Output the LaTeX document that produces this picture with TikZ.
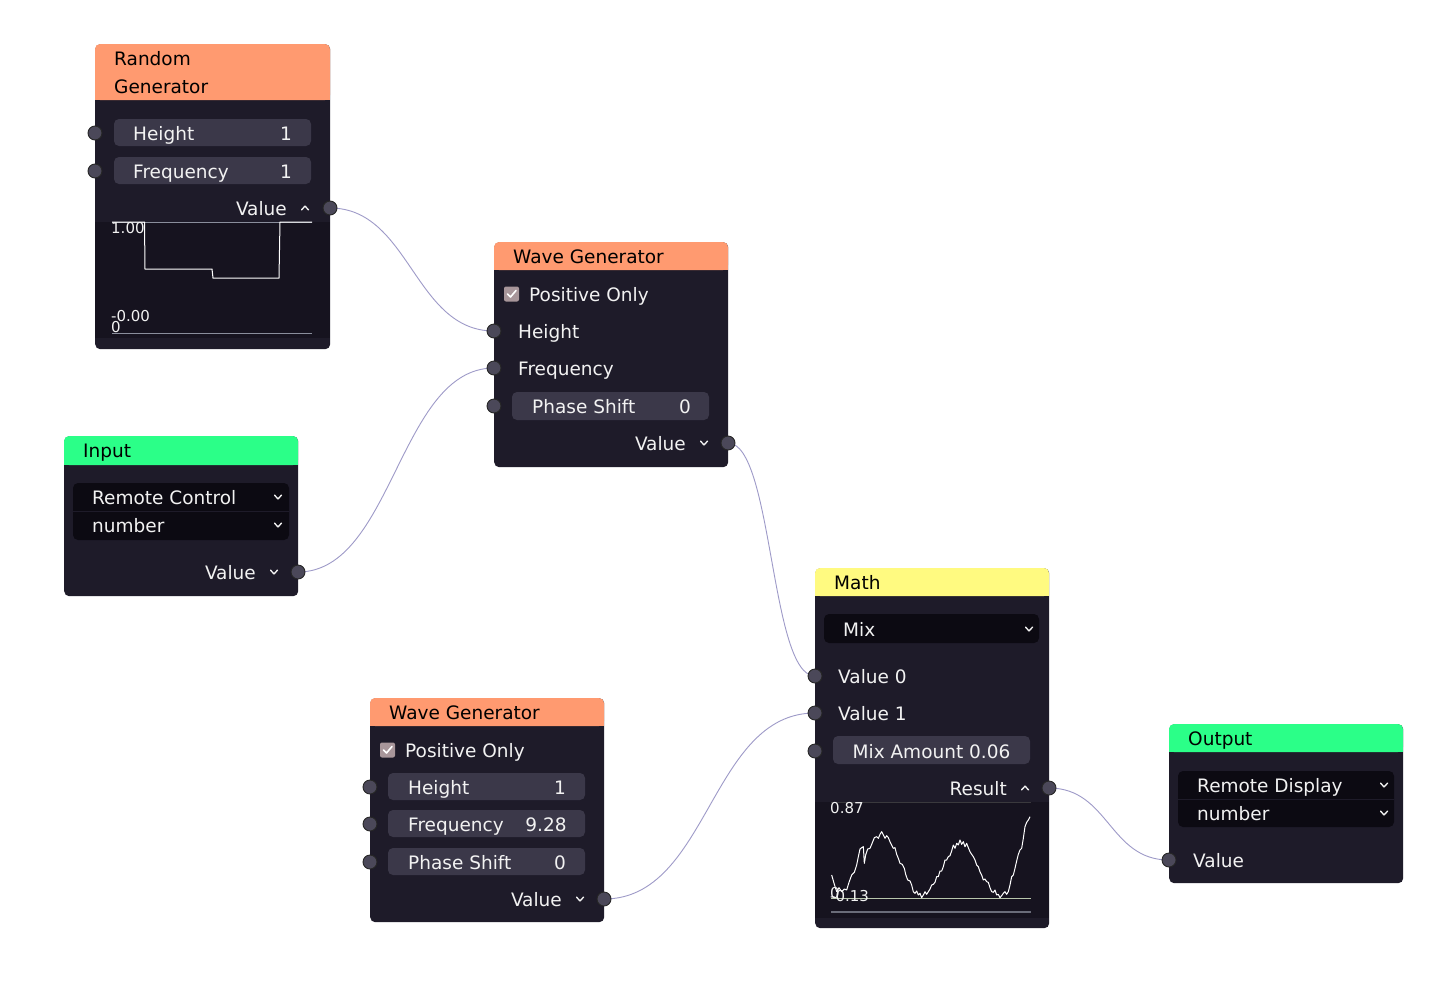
\documentclass[tikz,border=0pt]{standalone}
\usepackage{fontspec}
\setmainfont{DejaVu Sans}
\begin{document}
\pgfdeclarelayer{canvas}
\pgfdeclarelayer{background}
\pgfsetlayers{canvas,background,main}
\definecolor{bodyc}{HTML}{1E1B29}
\definecolor{plotc}{HTML}{16131F}
\definecolor{fieldc}{HTML}{3B3849}
\definecolor{dropc}{HTML}{0C0A12}
\definecolor{sockc}{HTML}{4B4859}
\definecolor{hdrorange}{HTML}{FF9A70}
\definecolor{hdrgreen}{HTML}{2BFF88}
\definecolor{hdryellow}{HTML}{FFFA80}
\definecolor{wirec}{HTML}{9E9AC8}
\definecolor{txtc}{HTML}{F2F2F2}
\definecolor{checkc}{HTML}{A8969A}
\definecolor{axisc}{HTML}{8A8E9C}
\definecolor{zeroc}{HTML}{B8C6AC}
\begin{tikzpicture}[x=1pt,y=-1pt,
  every node/.style={font=\fontsize{18.5pt}{22pt}\selectfont},
  body/.style={fill=bodyc, rounded corners=5pt, inner sep=0pt, anchor=north west},
  field/.style={fill=fieldc, rounded corners=5pt},
  drop/.style={fill=dropc, rounded corners=5pt},
  sock/.style={circle, fill=sockc, draw=black!85, line width=0.9pt, minimum size=14pt, inner sep=0pt},
  lbl/.style={inner sep=0pt, text height=15pt, text depth=0pt, text=txtc, anchor=west},
  lblr/.style={lbl, anchor=east},
  lblc/.style={lbl, anchor=center},
  hlbl/.style={inner sep=0pt, text height=15pt, text depth=0pt, text=black, anchor=west},
  small/.style={inner sep=0pt, text height=10.9pt, text depth=0pt, text=txtc, font=\fontsize{15pt}{18pt}\selectfont},
  wire/.style={draw=wirec, line width=0.9pt},
  chevdown/.pic={\draw[txtc, line width=1.4pt, line cap=round, line join=round] (-3.5,-1.8) -- (0,1.8) -- (3.5,-1.8);},
  caretup/.pic={\draw[txtc, line width=1.4pt, line cap=round, line join=round] (-3.5,1.8) -- (0,-1.8) -- (3.5,1.8);},
  checkbox/.pic={\fill[checkc, rounded corners=2pt] (-7.5,-7.5) rectangle (7.5,7.5);
    \draw[white, line width=1.6pt, line cap=round, line join=round] (-4,0) -- (-1,3) -- (4.5,-3.5);}
]
\useasboundingbox (0,0) rectangle (1434,999);
\begin{pgfonlayer}{canvas}
\fill[white] (0,0) rectangle (1434,999);
\end{pgfonlayer}

% ---------- Random Generator ----------
\node[body, minimum width=235pt, minimum height=305pt] (rg) at (95,44) {};
\fill[hdrorange, rounded corners=5pt] (95,44) rectangle (330,100);
\fill[hdrorange] (95,90) rectangle (330,100);
\node[hlbl] (rgt1) at (114,58) {Random};
\node[hlbl] (rgt2) at (114,86) {Generator};
\fill[field] (114,119) rectangle (311,146);
\fill[field] (114,157) rectangle (311,184);
\node[lbl] (rgh) at (133,133) {Height};
\node[lblc] (rghv) at (286,133) {1};
\node[lbl] (rgf) at (133,171) {Frequency};
\node[lblc] (rgfv) at (286,171) {1};
\node[lblr] (rgv) at (287,208) {Value};
\pic at (305,208) {caretup};
\fill[plotc] (95,222) rectangle (330,338);
\draw[axisc, line width=1pt] (112,222) -- (312,222);
\draw[axisc, line width=1pt] (112,333) -- (312,333);
\draw[white, line width=1pt] (112,222) -- (144.5,222) -- (145,269) -- (212,269) -- (213,278) -- (279,278) -- (280,222) -- (312,222);
\node[small, anchor=west] (rgmax) at (111,228) {1.00};
\node[small, anchor=west] (rgmin) at (111,316) {-0.00};
\node[small, anchor=west] (rgzero) at (111,327) {0};
\node[sock] (rg-h) at (95,133) {};
\node[sock] (rg-f) at (95,171) {};
\node[sock] (rg-out) at (330,208) {};

% ---------- Wave Generator (upper) ----------
\node[body, minimum width=234pt, minimum height=225pt] (wa) at (494,242) {};
\fill[hdrorange, rounded corners=5pt] (494,242) rectangle (728,270);
\fill[hdrorange] (494,262) rectangle (728,270);
\node[hlbl] (wat) at (513,256) {Wave Generator};
\pic at (511.5,294) {checkbox};
\node[lbl] (wapos) at (529,294) {Positive Only};
\node[lbl] (wah) at (518,331) {Height};
\node[lbl] (waf) at (518,368) {Frequency};
\fill[field] (512,392) rectangle (709,420);
\node[lbl] (wap) at (532,406) {Phase Shift};
\node[lblc] (wapv) at (685,406) {0};
\node[lblr] (wav) at (686,443) {Value};
\pic at (704,443) {chevdown};
\node[sock] (wa-h) at (494,331) {};
\node[sock] (wa-f) at (494,368) {};
\node[sock] (wa-p) at (494,406) {};
\node[sock] (wa-out) at (728,443) {};

% ---------- Input ----------
\node[body, minimum width=234pt, minimum height=160pt] (in) at (64,436) {};
\fill[hdrgreen, rounded corners=5pt] (64,436) rectangle (298,465);
\fill[hdrgreen] (64,457) rectangle (298,465);
\node[hlbl] (int) at (83,450) {Input};
\fill[drop] (73,483) rectangle (289,540);
\draw[bodyc, line width=1pt] (73,511.5) -- (289,511.5);
\node[lbl] (inrc) at (92,497) {Remote Control};
\node[lbl] (innum) at (92,525) {number};
\pic at (278,497) {chevdown};
\pic at (278,525) {chevdown};
\node[lblr] (inv) at (256,572) {Value};
\pic at (274,572) {chevdown};
\node[sock] (in-out) at (298,572) {};

% ---------- Math ----------
\node[body, minimum width=234pt, minimum height=360pt] (ma) at (815,568) {};
\fill[hdryellow, rounded corners=5pt] (815,568) rectangle (1049,596);
\fill[hdryellow] (815,588) rectangle (1049,596);
\node[hlbl] (mat) at (834,582) {Math};
\fill[drop] (824,614) rectangle (1039,643);
\node[lbl] (mamix) at (843,629) {Mix};
\pic at (1029,629) {chevdown};
\node[lbl] (ma0) at (838,676) {Value 0};
\node[lbl] (ma1) at (838,713) {Value 1};
\fill[field] (833,736) rectangle (1030,764);
\node[lblc] (maamt) at (931.5,751) {Mix Amount 0.06};
\node[lblr] (mares) at (1007,788) {Result};
\pic at (1025,788) {caretup};
\fill[plotc] (815,802) rectangle (1049,918);
\draw[black!70!bodyc!80!white, line width=1pt] (831,802) -- (1031,802);
\draw[zeroc, line width=1pt] (831,898) -- (1031,898);
\draw[axisc!70!bodyc, line width=2pt] (831,912) -- (1031,912);
\begin{scope}[shift={(825,795)}, x=0.3333pt, y=-0.3333pt]
\draw[white, line width=1pt, line join=round]
 (20,240) -- (28,268) -- (35,290) -- (42,278) -- (50,290) -- (58,282) -- (65,285) -- (72,262)
 -- (80,240) -- (88,232) -- (95,210) -- (100,185) -- (105,162) -- (110,158) -- (115,155)
 -- (118,205) -- (122,180) -- (128,162) -- (135,160) -- (140,148) -- (148,128) -- (155,125)
 -- (160,130) -- (165,118) -- (170,110) -- (175,120) -- (180,130) -- (185,122) -- (190,128)
 -- (195,140) -- (200,150) -- (205,160) -- (210,158) -- (215,178) -- (220,190) -- (225,205)
 -- (232,208) -- (238,220) -- (242,238) -- (248,255) -- (255,258) -- (260,270) -- (265,290)
 -- (270,295) -- (275,288) -- (280,300) -- (285,295) -- (290,308) -- (295,300) -- (300,290)
 -- (305,298) -- (310,290) -- (315,282) -- (320,270) -- (325,268) -- (330,262) -- (335,245)
 -- (340,245) -- (345,228) -- (350,228) -- (355,215) -- (360,195) -- (365,195) -- (370,185)
 -- (375,182) -- (380,168) -- (385,150) -- (390,160) -- (395,145) -- (400,150) -- (405,135)
 -- (410,148) -- (415,140) -- (420,155) -- (425,145) -- (430,158) -- (435,170) -- (440,178)
 -- (445,185) -- (450,195) -- (455,210) -- (460,215) -- (465,230) -- (470,240) -- (475,255)
 -- (480,252) -- (485,260) -- (490,262) -- (495,278) -- (500,290) -- (505,292) -- (510,285)
 -- (515,300) -- (520,298) -- (525,308) -- (530,302) -- (535,295) -- (540,290) -- (545,298)
 -- (550,290) -- (555,270) -- (560,245) -- (565,240) -- (570,220) -- (575,198) -- (580,178)
 -- (585,165) -- (590,160) -- (595,130) -- (600,95) -- (605,82) -- (610,75) -- (615,65);
\end{scope}
\node[small, anchor=west] (mamax) at (830,808) {0.87};
\node[small, anchor=west] (mazero) at (830,893) {0};
\node[small, anchor=west] (mamin) at (830,896) {-0.13};
\node[sock] (ma-0) at (815,676) {};
\node[sock] (ma-1) at (815,713) {};
\node[sock] (ma-a) at (815,751) {};
\node[sock] (ma-out) at (1049,788) {};

% ---------- Wave Generator (lower) ----------
\node[body, minimum width=234pt, minimum height=224pt] (wb) at (370,698) {};
\fill[hdrorange, rounded corners=5pt] (370,698) rectangle (604,726);
\fill[hdrorange] (370,718) rectangle (604,726);
\node[hlbl] (wbt) at (389,712) {Wave Generator};
\pic at (387.5,750) {checkbox};
\node[lbl] (wbpos) at (405,750) {Positive Only};
\fill[field] (388,773) rectangle (585,800);
\fill[field] (388,810) rectangle (585,837);
\fill[field] (388,848) rectangle (585,875);
\node[lbl] (wbh) at (408,787) {Height};
\node[lblc] (wbhv) at (560,787) {1};
\node[lbl] (wbf) at (408,824) {Frequency};
\node[lblc] (wbfv) at (546,824) {9.28};
\node[lbl] (wbp) at (408,862) {Phase Shift};
\node[lblc] (wbpv) at (560,862) {0};
\node[lblr] (wbv) at (562,899) {Value};
\pic at (580,899) {chevdown};
\node[sock] (wb-h) at (370,787) {};
\node[sock] (wb-f) at (370,824) {};
\node[sock] (wb-p) at (370,862) {};
\node[sock] (wb-out) at (604,899) {};

% ---------- Output ----------
\node[body, minimum width=234pt, minimum height=159pt] (out) at (1169,724) {};
\fill[hdrgreen, rounded corners=5pt] (1169,724) rectangle (1403,752);
\fill[hdrgreen] (1169,744) rectangle (1403,752);
\node[hlbl] (outt) at (1188,738) {Output};
\fill[drop] (1178,771) rectangle (1394,827);
\draw[bodyc, line width=1pt] (1178,799) -- (1394,799);
\node[lbl] (outrd) at (1197,785) {Remote Display};
\node[lbl] (outnum) at (1197,813) {number};
\pic at (1384,785) {chevdown};
\pic at (1384,813) {chevdown};
\node[lbl] (outv) at (1193,860) {Value};
\node[sock] (out-in) at (1169,860) {};

% ---------- Connections ----------
\begin{pgfonlayer}{background}
\draw[wire] (rg-out.center) .. controls +(80,0) and +(-80,0) .. (wa-h.center);
\draw[wire] (in-out.center) .. controls +(95,0) and +(-95,0) .. (wa-f.center);
\draw[wire] (wa-out.center) .. controls +(45,0) and +(-45,0) .. (ma-0.center);
\draw[wire] (wb-out.center) .. controls +(105,0) and +(-105,0) .. (ma-1.center);
\draw[wire] (ma-out.center) .. controls +(60,0) and +(-60,0) .. (out-in.center);
\end{pgfonlayer}
\end{tikzpicture}
\end{document}
